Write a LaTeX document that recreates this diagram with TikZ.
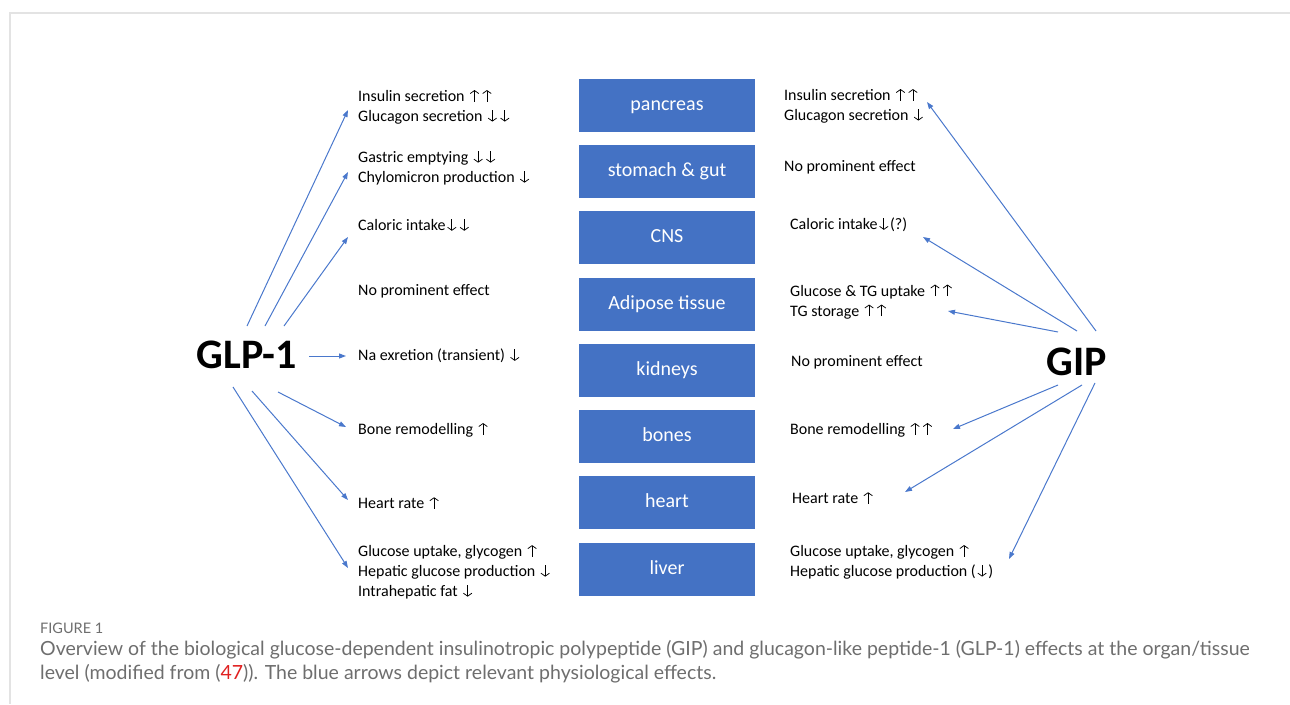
\documentclass[tikz,border=0pt]{standalone}
\usepackage{fontspec}
\setmainfont{Carlito}
\newfontfamily\capfont{Lato}
\usetikzlibrary{arrows.meta}
\definecolor{boxblue}{HTML}{4472C4}
\definecolor{arrblue}{HTML}{4A78CC}
\definecolor{capgray}{HTML}{6E6E6E}
\definecolor{refred}{HTML}{E02020}
\newcommand{\ua}{\hspace{1.6pt}\tikz[baseline=0pt]\draw[line width=0.75pt,-{Straight Barb[length=3pt,width=8.5pt,line width=0.75pt]}] (0pt,0pt) -- (0pt,11.5pt);\hspace{1.6pt}}
\newcommand{\da}{\hspace{1.6pt}\tikz[baseline=0pt]\draw[line width=0.75pt,-{Straight Barb[length=3pt,width=8.5pt,line width=0.75pt]}] (0pt,11.5pt) -- (0pt,0pt);\hspace{1.6pt}}
\tikzset{
  organ/.style={fill=boxblue, draw=none, minimum width=176pt, minimum height=53pt, inner sep=0pt, text=white, text height=13pt, text depth=3pt, font=\fontsize{20}{24}\selectfont},
  effect/.style={anchor=west, inner sep=0pt, align=left, font=\fontsize{16}{20}\selectfont},
  hormone/.style={inner sep=0pt, font=\fontsize{42}{44}\selectfont\bfseries},
  link/.style={draw=arrblue, line width=1pt, -{Triangle[length=7pt,width=5pt]}},
}
\begin{document}
\begin{tikzpicture}[x=1pt,y=-1pt]
\useasboundingbox (0,0) rectangle (1290,704);
\draw[gray!22, line width=1.5pt] (10,704) -- (10,13) -- (1290,13);

% organ boxes
\node[organ] (pancreas) at (667,105.5) {pancreas};
\node[organ] (stomach) at (667,171.5) {stomach \& gut};
\node[organ] (cns) at (667,237.5) {CNS};
\node[organ] (adipose) at (667,304) {Adipose tissue};
\node[organ] (kidneys) at (667,370) {kidneys};
\node[organ] (bones) at (667,436.5) {bones};
\node[organ] (heart) at (667,502.5) {heart};
\node[organ] (liver) at (667,569) {liver};

% hormones
\node[hormone] (glp) at (247,355) {GLP-1};
\node[hormone] (gip) at (1077,362) {GIP};

% GLP-1 effects
\node[effect] (l1) at (358,107) {Insulin secretion \ua\ua\\Glucagon secretion \da\da};
\node[effect] (l2) at (358,168) {Gastric emptying \da\da\\Chylomicron production \da};
\node[effect] (l3) at (358,225) {Caloric intake\da\da};
\node[effect] (l4) at (358,291) {No prominent effect};
\node[effect] (l5) at (358,356) {Na exretion (transient) \da};
\node[effect] (l6) at (358,430) {Bone remodelling \ua};
\node[effect] (l7) at (358,503) {Heart rate \ua};
\node[effect] (l8) at (358,572) {Glucose uptake, glycogen \ua\\Hepatic glucose production \da\\Intrahepatic fat \da};

% GIP effects
\node[effect] (r1) at (784,106) {Insulin secretion \ua\ua\\Glucagon secretion \da};
\node[effect] (r2) at (784,167) {No prominent effect};
\node[effect] (r3) at (790,225) {Caloric intake\da(?)};
\node[effect] (r4) at (790,301.5) {Glucose \& TG uptake \ua\ua\\TG storage \ua\ua};
\node[effect] (r5) at (791,362) {No prominent effect};
\node[effect] (r6) at (790,430) {Bone remodelling \ua\ua};
\node[effect] (r7) at (792,498) {Heart rate \ua};
\node[effect] (r8) at (790,562) {Glucose uptake, glycogen \ua\\Hepatic glucose production (\da)};

% arrow end points
\coordinate (s1) at (247,326); \coordinate (t1) at (348,110);
\coordinate (s2) at (265,326); \coordinate (t2) at (348,172);
\coordinate (s3) at (284,326); \coordinate (t3) at (348,237);
\coordinate (s5) at (309,356); \coordinate (t5) at (346,356);
\coordinate (s6) at (278,392); \coordinate (t6) at (346,427);
\coordinate (s7) at (252,391); \coordinate (t7) at (348,500);
\coordinate (s8) at (233,387); \coordinate (t8) at (348,568);

\coordinate (u1) at (1096,331); \coordinate (v1) at (927,102);
\coordinate (u3) at (1077,331); \coordinate (v3) at (923,237);
\coordinate (u4) at (1058,332); \coordinate (v4) at (948,311);
\coordinate (u6) at (1058,385); \coordinate (v6) at (953,429);
\coordinate (u7) at (1082,385); \coordinate (v7) at (905,492);
\coordinate (u8) at (1095,383); \coordinate (v8) at (1009,559);

\foreach \a/\b in {s1/t1,s2/t2,s3/t3,s5/t5,s6/t6,s7/t7,s8/t8,u1/v1,u3/v3,u4/v4,u6/v6,u7/v7,u8/v8}
  \draw[link] (\a) -- (\b);

% caption
\node[anchor=west, inner sep=0pt, text=capgray, font=\capfont\fontsize{14.5}{16}\selectfont] (figlabel) at (40,628) {FIGURE 1};
\node[anchor=west, inner sep=0pt, text=capgray, font=\capfont\fontsize{19.5}{24}\selectfont] (cap1) at (40,650) {Overview of the biological glucose-dependent insulinotropic polypeptide (GIP) and glucagon-like peptide-1 (GLP-1) effects at the organ/tissue};
\node[anchor=west, inner sep=0pt, text=capgray, font=\capfont\fontsize{19.5}{24}\selectfont] (cap2) at (40,674) {level (modified from (\textcolor{refred}{47})). The blue arrows depict relevant physiological effects.};
\end{tikzpicture}
\end{document}
